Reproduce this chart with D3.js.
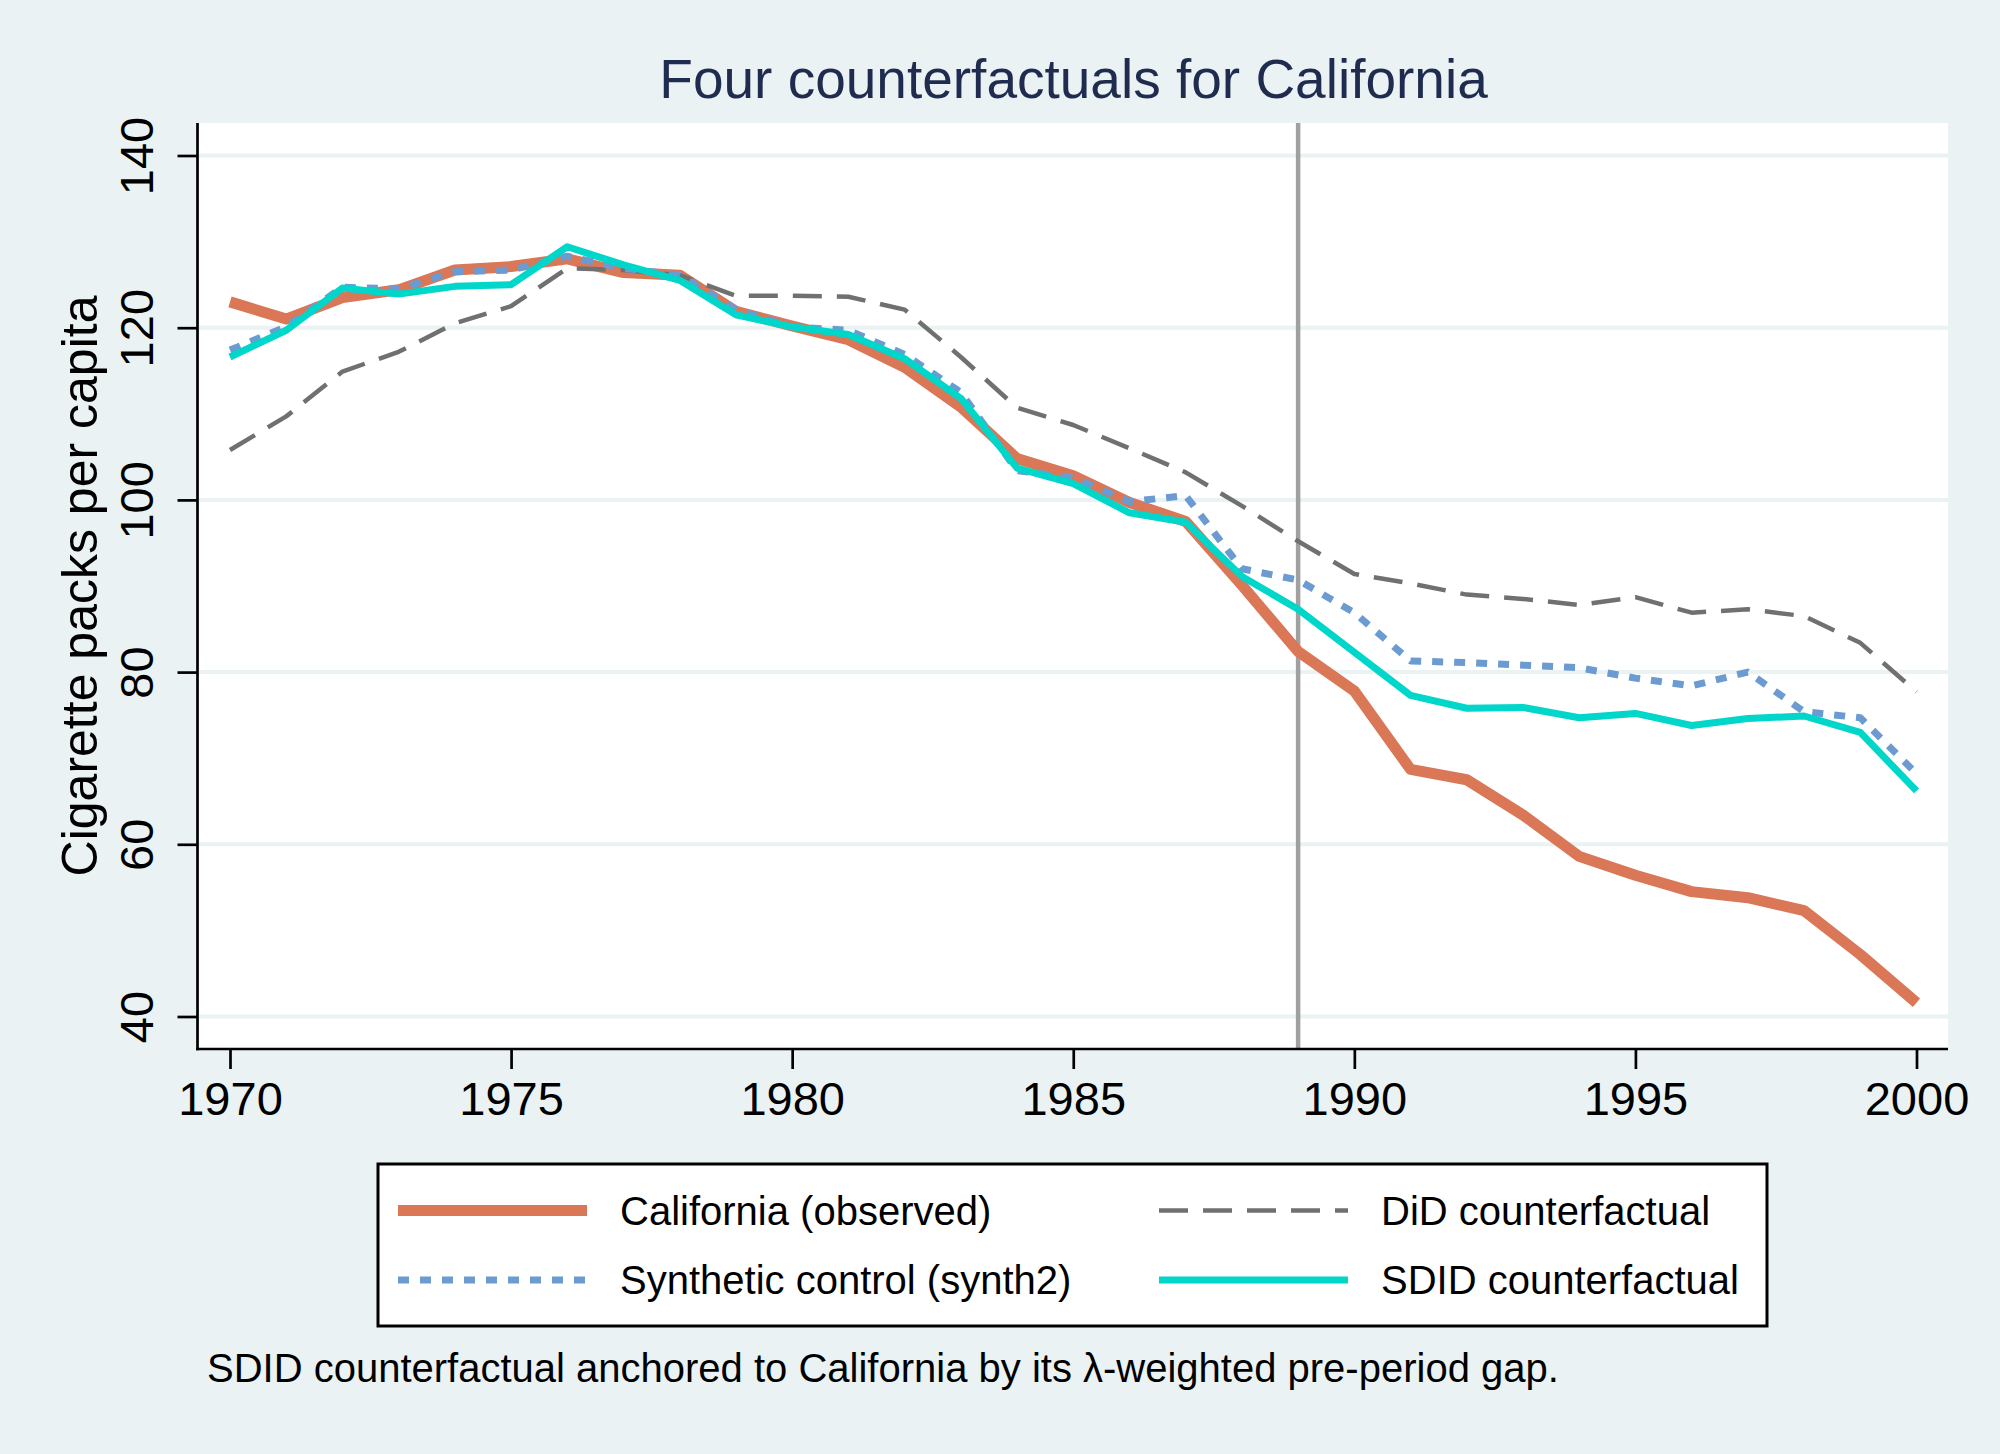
<!DOCTYPE html>
<html>
<head>
<meta charset="utf-8">
<script src="https://cdn.jsdelivr.net/npm/d3@7"></script>
<style>
  body { margin: 0; background: #eaf2f3; }
  svg { display: block; font-family: "Liberation Sans", Arial, Helvetica, sans-serif; }
</style>
</head>
<body>
<div id="chart"></div>
<script>
// years on the x axis
var YEARS = d3.range(1970, 2001);
var X_TICKS = [1970, 1975, 1980, 1985, 1990, 1995, 2000];
var Y_TICKS = [40, 60, 80, 100, 120, 140];
var TREAT_YEAR = 1989;

// cigarette packs per capita
var CALIFORNIA = [123.0, 121.0, 123.5, 124.4, 126.7, 127.1, 128.0, 126.4, 126.1, 121.9,
                  120.2, 118.6, 115.4, 110.8, 104.8, 102.8, 99.7, 97.5, 90.1, 82.4,
                  77.8, 68.7, 67.5, 63.4, 58.6, 56.4, 54.5, 53.8, 52.3, 47.2, 41.6];
var DID = [105.8, 109.7, 114.9, 117.2, 120.5, 122.5, 126.9, 126.7, 126.1, 123.7,
           123.7, 123.6, 122.1, 116.6, 110.7, 108.7, 106.0, 103.2, 99.3, 95.2,
           91.4, 90.3, 89.0, 88.5, 87.8, 88.7, 86.9, 87.3, 86.5, 83.4, 77.7];
var SYNTH = [117.4, 120.1, 124.7, 124.5, 126.5, 126.7, 128.3, 126.9, 126.1, 122.1,
             120.1, 119.7, 116.9, 112.5, 103.4, 102.6, 99.8, 100.5, 92.0, 90.7,
             86.9, 81.3, 81.1, 80.8, 80.5, 79.3, 78.4, 80.0, 75.4, 74.7, 68.2];
var SDID = [116.6, 119.7, 124.6, 123.9, 124.8, 125.0, 129.4, 127.3, 125.5, 121.5,
            120.1, 119.2, 116.4, 111.8, 103.7, 101.9, 98.5, 97.4, 91.1, 87.3,
            82.3, 77.3, 75.8, 75.9, 74.7, 75.2, 73.8, 74.6, 74.9, 73.0, 66.2];

var LABELS = ["California (observed)", "DiD counterfactual",
              "Synthetic control (synth2)", "SDID counterfactual"];

// line styles, in legend order
var STYLES = [
  {color: "#d97757", width: 11, dash: null},
  {color: "#707070", width: 4.5, dash: "29,15"},
  {color: "#6b9bd0", width: 7, dash: "11,11"},
  {color: "#00d6c9", width: 7, dash: null}
];

var aSeries = [CALIFORNIA, DID, SYNTH, SDID].map(function(aValues, i) {
  return {
    label: LABELS[i],
    style: STYLES[i],
    values: aValues.map(function(v, j) { return {year: YEARS[j], value: v}; })
  };
});

var W = 2000, H = 1454;
var PLOT = {left: 199, right: 1948, top: 123, bottom: 1049};

var svg = d3.select("#chart").append("svg")
  .attr("width", W)
  .attr("height", H);

svg.append("rect").attr("width", W).attr("height", H).attr("fill", "#eaf2f3");

svg.append("rect")
  .attr("x", PLOT.left).attr("y", PLOT.top)
  .attr("width", PLOT.right - PLOT.left).attr("height", PLOT.bottom - PLOT.top)
  .attr("fill", "#ffffff");

var x = d3.scaleLinear().domain([1970, 2000]).range([230, 1916.5]);
var y = d3.scaleLinear().domain([40, 140]).range([1016.5, 155.5]);

// grid
svg.append("g")
  .selectAll("line")
  .data(Y_TICKS)
  .enter().append("line")
  .attr("x1", PLOT.left).attr("x2", PLOT.right)
  .attr("y1", function(d) { return y(d); })
  .attr("y2", function(d) { return y(d); })
  .attr("stroke", "#eaf2f3")
  .attr("stroke-width", 4);

// treatment year
svg.append("line")
  .attr("x1", x(TREAT_YEAR)).attr("x2", x(TREAT_YEAR))
  .attr("y1", PLOT.top).attr("y2", PLOT.bottom)
  .attr("stroke", "#a0a0a0")
  .attr("stroke-width", 4.5);

var line = d3.line()
  .x(function(d) { return x(d.year); })
  .y(function(d) { return y(d.value); });

svg.append("g")
  .selectAll("path")
  .data(aSeries)
  .enter().append("path")
  .attr("d", function(d) { return line(d.values); })
  .attr("fill", "none")
  .attr("stroke", function(d) { return d.style.color; })
  .attr("stroke-width", function(d) { return d.style.width; })
  .attr("stroke-dasharray", function(d) { return d.style.dash; })
  .attr("stroke-linejoin", "round");

// axes
var gx = svg.append("g")
  .attr("transform", "translate(0," + PLOT.bottom + ")")
  .call(d3.axisBottom(x).tickValues(X_TICKS).tickFormat(d3.format("d"))
    .tickSize(20).tickSizeOuter(0).tickPadding(13));
gx.select(".domain").remove();
gx.selectAll(".tick line").attr("stroke", "#000").attr("stroke-width", 2.7);
gx.selectAll("text").attr("font-size", 47).attr("fill", "#000").attr("font-family", null);

var gy = svg.append("g")
  .attr("transform", "translate(197.5,0)")
  .call(d3.axisLeft(y).tickValues(Y_TICKS).tickSize(20).tickSizeOuter(0));
gy.select(".domain").remove();
gy.selectAll(".tick line").attr("stroke", "#000").attr("stroke-width", 2.7);
gy.selectAll("text")
  .attr("x", null).attr("dy", null)
  .attr("text-anchor", "middle")
  .attr("transform", "translate(-44.5,0) rotate(-90)")
  .attr("font-size", 47).attr("fill", "#000").attr("font-family", null);

svg.append("line")
  .attr("x1", 197.5).attr("x2", 197.5).attr("y1", PLOT.top).attr("y2", PLOT.bottom + 1.3)
  .attr("stroke", "#000").attr("stroke-width", 2.7);
svg.append("line")
  .attr("x1", 196).attr("x2", PLOT.right).attr("y1", PLOT.bottom).attr("y2", PLOT.bottom)
  .attr("stroke", "#000").attr("stroke-width", 2.7);

// titles
svg.append("text")
  .attr("x", (PLOT.left + PLOT.right) / 2).attr("y", 98)
  .attr("text-anchor", "middle")
  .attr("font-size", 55)
  .attr("fill", "#1f2b4f")
  .text("Four counterfactuals for California");

svg.append("text")
  .attr("transform", "translate(97," + (PLOT.top + PLOT.bottom) / 2 + ") rotate(-90)")
  .attr("text-anchor", "middle")
  .attr("font-size", 50)
  .attr("fill", "#000")
  .text("Cigarette packs per capita");

// legend, two columns filled row-wise
var legend = svg.append("g");
legend.append("rect")
  .attr("x", 378).attr("y", 1164).attr("width", 1389).attr("height", 162)
  .attr("fill", "#fff").attr("stroke", "#000").attr("stroke-width", 3);

var COL_X = [398, 1159], ROW_Y = [1210.5, 1280];
var item = legend.selectAll(".item")
  .data(aSeries)
  .enter().append("g")
  .attr("transform", function(d, i) {
    return "translate(" + COL_X[i % 2] + "," + ROW_Y[Math.floor(i / 2)] + ")";
  });
item.append("line")
  .attr("x1", 0).attr("x2", 189)
  .attr("stroke", function(d) { return d.style.color; })
  .attr("stroke-width", function(d) { return d.style.width; })
  .attr("stroke-dasharray", function(d) { return d.style.dash; });
item.append("text")
  .attr("x", 222).attr("y", 14)
  .attr("font-size", 40)
  .attr("fill", "#000")
  .text(function(d) { return d.label; });

svg.append("text")
  .attr("x", 207).attr("y", 1382)
  .attr("font-size", 40)
  .attr("fill", "#000")
  .text("SDID counterfactual anchored to California by its λ-weighted pre-period gap.");
</script>
</body>
</html>
